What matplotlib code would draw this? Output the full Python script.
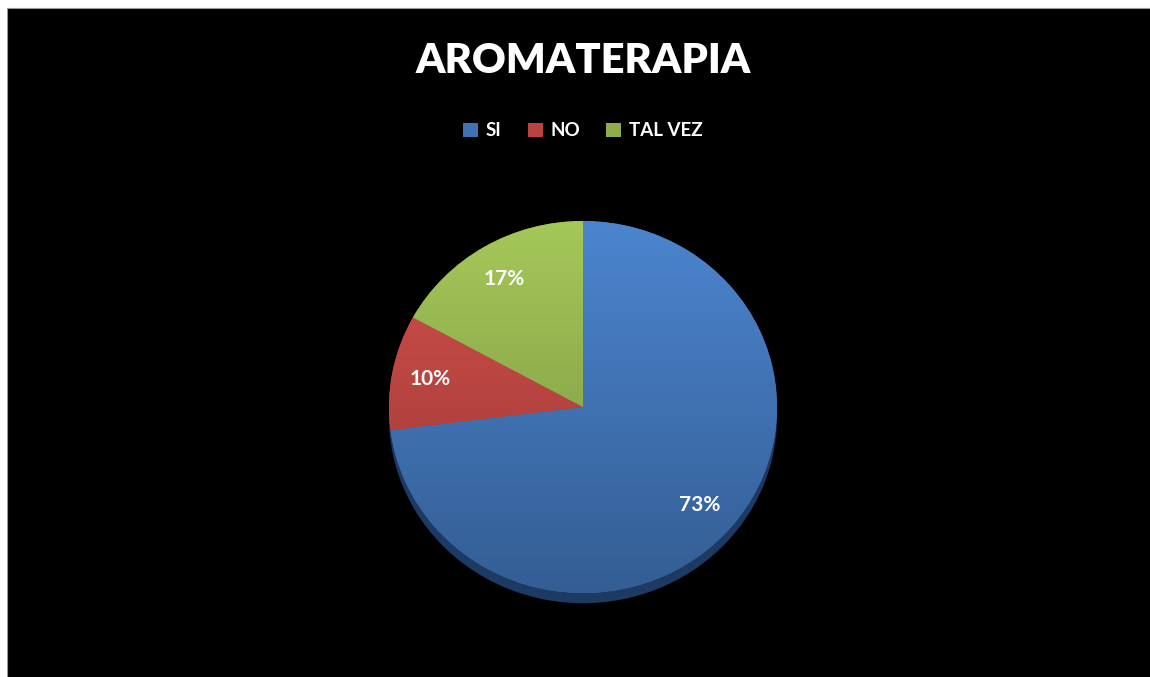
import numpy as np
import matplotlib.pyplot as plt
from matplotlib.patches import Rectangle, Ellipse
from matplotlib.colors import LinearSegmentedColormap, to_rgb
from matplotlib.lines import Line2D

# data
labels = ['SI', 'NO', 'TAL VEZ']
values = [73, 10, 17]
colors = ['#3f72b4', '#b8433f', '#8fae4b']
title = 'AROMATERAPIA'

W, H = 1150, 677
fig = plt.figure(figsize=(W / 100, H / 100), dpi=100)
fig.patch.set_facecolor('white')
# black chart area with thin white margin on top / left
fig.patches.append(Rectangle((7 / W, -0.01), 1.0, 1 - 8 / H + 0.01, transform=fig.transFigure,
                             facecolor='black', edgecolor='none', zorder=-5))
fig.lines.append(Line2D([7 / W, 7 / W, 1.0], [0, 1 - 8 / H, 1 - 8 / H], transform=fig.transFigure,
                        color='#999999', linewidth=0.8, zorder=-4))

# pie axes: centre ~ (583, 407) px, radius ~ 194 x 186 px
cx, cy, rx, ry = 583, 407, 194, 186
ax = fig.add_axes([(cx - rx) / W, (H - cy - ry) / H, 2 * rx / W, 2 * ry / H])
ax.set_facecolor('none')
# 3d-ish bottom rim
ax.add_patch(Ellipse((0, -0.055), 2.0, 2.0, facecolor='#1d3a63', edgecolor='none',
                     zorder=0, clip_on=False))
wedges, texts, autotexts = ax.pie(values, colors=colors, startangle=90, counterclock=False,
                                  autopct='%1.0f%%', pctdistance=0.8,
                                  wedgeprops=dict(linewidth=0, clip_on=False),
                                  textprops=dict(color='white', fontsize=15, fontweight='bold',
                                                 family='Lato'))
# soft vertical gradient inside every wedge
grad = np.linspace(0, 1, 256).reshape(-1, 1)
for w, c in zip(wedges, colors):
    base = np.array(to_rgb(c))
    top = np.clip(base * 1.12 + 0.02, 0, 1)
    bot = base * 0.82
    cmap = LinearSegmentedColormap.from_list('g', [top, bot])
    im = ax.imshow(grad, cmap=cmap, extent=(-1, 1, -1, 1), origin='upper', aspect='auto',
                   zorder=w.get_zorder() + 0.1, interpolation='bilinear')
    im.set_clip_path(w)
for t in autotexts:
    t.set_zorder(5)
ax.set_xlim(-1, 1)
ax.set_ylim(-1, 1)
ax.set_aspect('auto')
ax.axis('off')

fig.text(cx / W, 1 - 61 / H, title, ha='center', va='center', color='white',
         fontsize=30, fontweight='heavy', family='Lato')

handles = [Rectangle((0, 0), 1, 1, facecolor=c, edgecolor='none') for c in colors]
leg = fig.legend(handles, labels, loc='center', bbox_to_anchor=(cx / W, 1 - 131 / H), ncol=3,
                 frameon=False, handlelength=0.8, handleheight=0.8, handletextpad=0.4,
                 columnspacing=1.4, prop=dict(family='Lato', weight='bold', size=13.5))
for t in leg.get_texts():
    t.set_color('white')

fig.savefig('out.png', dpi=100, facecolor=fig.get_facecolor())
